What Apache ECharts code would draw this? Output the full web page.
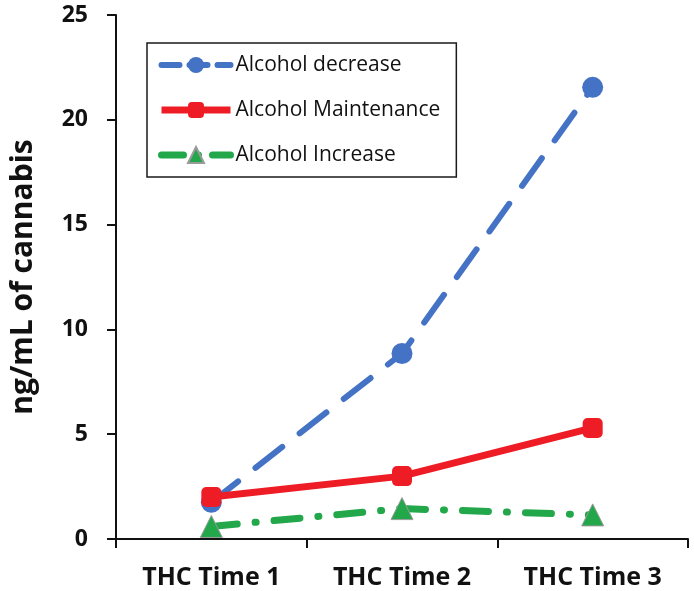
<!DOCTYPE html>
<html>
<head>
<meta charset="utf-8">
<script src="https://cdn.jsdelivr.net/npm/echarts@6/dist/echarts.min.js"></script>
<style>
html,body{margin:0;padding:0;background:#fff;}
#main{width:694px;height:591px;}
</style>
</head>
<body>
<div id="main"></div>
<script>
var categories = ['THC Time 1', 'THC Time 2', 'THC Time 3'];
var alcoholDecrease = [1.75, 8.85, 21.55];
var alcoholMaintenance = [2.0, 3.0, 5.3];
var alcoholIncrease = [0.6, 1.45, 1.15];
var yTicks = { min: 0, max: 25, interval: 5 };
var yName = 'ng/mL of cannabis';
var seriesNames = ['Alcohol decrease', 'Alcohol Maintenance', 'Alcohol Increase'];

var blue = '#4472C4', red = '#EE1C25', green = '#22A84A';
var blueDash = [34, 22], greenDash = [26, 18, 1, 18];

var chart = echarts.init(document.getElementById('main'), null, { renderer: 'canvas' });
var font = '"Open Sans", "Noto Sans", sans-serif';
chart.setOption({
  animation: false,
  backgroundColor: '#ffffff',
  grid: { left: 109, right: 6, top: 15, bottom: 52, containLabel: false },
  legend: {
    orient: 'vertical',
    left: 147,
    top: 43,
    padding: [10, 16, 10, 11],
    itemGap: 21,
    itemWidth: 69,
    itemHeight: 20,
    borderColor: '#1a1a1a',
    borderWidth: 1.5,
    backgroundColor: '#ffffff',
    textStyle: { fontFamily: font, fontSize: 21, color: '#111', lineHeight: 24 },
    data: [
      { name: seriesNames[0], lineStyle: { width: 6, type: [18, 10], color: blue } },
      { name: seriesNames[1], lineStyle: { width: 7, color: red } },
      { name: seriesNames[2], lineStyle: { width: 7, type: [22, 14, 1, 14], color: green } }
    ]
  },
  xAxis: {
    type: 'category',
    data: categories,
    boundaryGap: true,
    axisLine: { lineStyle: { color: '#111', width: 2 } },
    axisTick: { show: true, length: 9, lineStyle: { color: '#111', width: 2 } },
    axisLabel: { fontFamily: font, fontWeight: 'bold', fontSize: 25, color: '#111', margin: 26 }
  },
  yAxis: {
    type: 'value',
    min: yTicks.min,
    max: yTicks.max,
    interval: yTicks.interval,
    name: yName,
    nameLocation: 'middle',
    nameGap: 78,
    nameTextStyle: { fontFamily: font, fontWeight: 'bold', fontSize: 30, color: '#111' },
    axisLine: { show: true, lineStyle: { color: '#111', width: 2 } },
    axisTick: { show: true, length: 9, lineStyle: { color: '#111', width: 2 } },
    splitLine: { show: false },
    axisLabel: { fontFamily: font, fontWeight: 'bold', fontSize: 23, color: '#111', margin: 28 }
  },
  series: [
    {
      name: seriesNames[0],
      type: 'line',
      data: alcoholDecrease,
      symbol: 'circle',
      symbolSize: 21,
      itemStyle: { color: blue },
      lineStyle: { color: blue, width: 6, type: blueDash, cap: 'round' }
    },
    {
      name: seriesNames[1],
      type: 'line',
      data: alcoholMaintenance,
      symbol: 'roundRect',
      symbolSize: 20,
      itemStyle: { color: red },
      lineStyle: { color: red, width: 7 }
    },
    {
      name: seriesNames[2],
      type: 'line',
      data: alcoholIncrease,
      symbol: 'triangle',
      symbolSize: 22,
      itemStyle: { color: green, borderColor: '#9a9a9a', borderWidth: 1 },
      lineStyle: { color: green, width: 7, type: greenDash, cap: 'round' }
    }
  ]
});
</script>
</body>
</html>
